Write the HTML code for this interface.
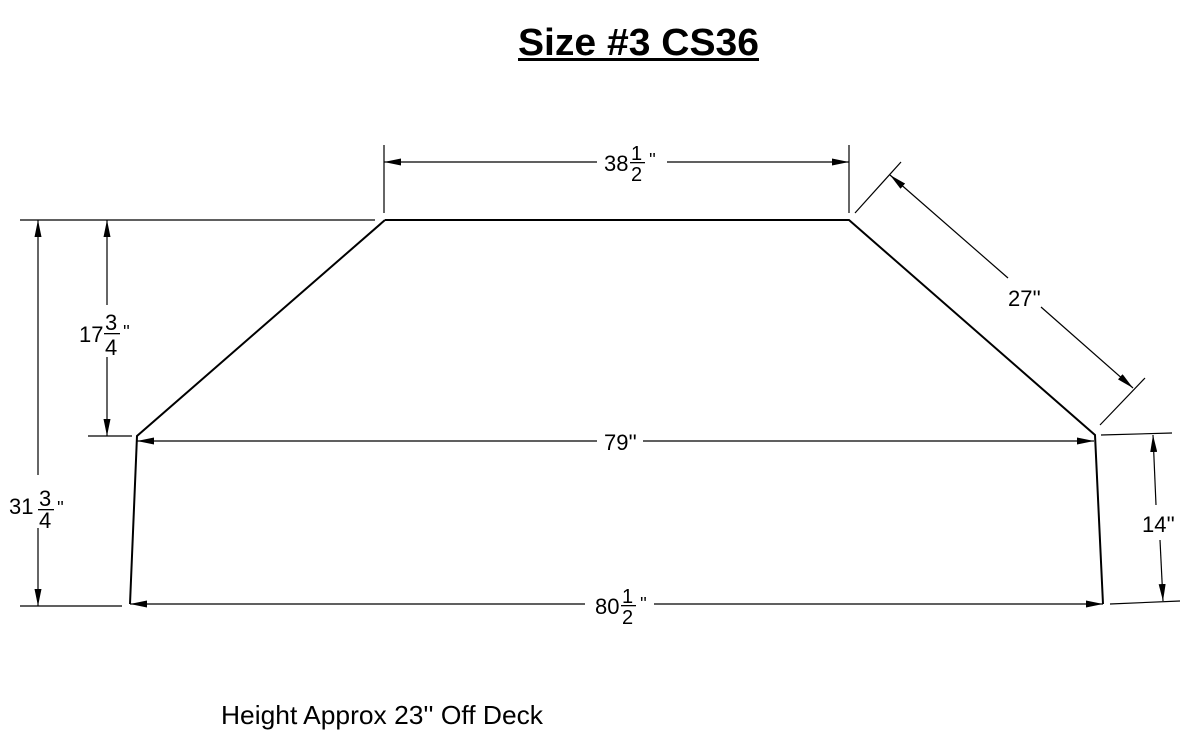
<!DOCTYPE html>
<html><head><meta charset="utf-8"><style>
html,body{margin:0;padding:0;background:#fff;}
svg{display:block;}
text{font-family:"Liberation Sans",sans-serif;fill:#000;}
</style></head><body>
<svg width="1200" height="738" viewBox="0 0 1200 738" xmlns="http://www.w3.org/2000/svg">
<defs>
<marker id="a" markerWidth="17" markerHeight="7" refX="17" refY="3.5" orient="auto" markerUnits="userSpaceOnUse">
<path d="M0,0 L17,3.5 L0,7 Z" fill="#000"/></marker>
<marker id="b" markerWidth="17" markerHeight="7" refX="0" refY="3.5" orient="auto" markerUnits="userSpaceOnUse">
<path d="M17,0 L0,3.5 L17,7 Z" fill="#000"/></marker>
</defs>
<text x="518" y="55" font-size="38" font-weight="bold" textLength="241" lengthAdjust="spacingAndGlyphs">Size #3 CS36</text>
<rect x="518" y="58" width="241" height="3" fill="#000"/>

<g stroke="#000" stroke-width="2" fill="none">
<path d="M385,220 L849,220 L1095,435 L1103,604 M385,220 L137,436 L130,604"/>
</g>

<g stroke="#000" stroke-width="1.2" fill="none">
<line x1="384" y1="145" x2="384" y2="213"/>
<line x1="849" y1="145" x2="849" y2="213"/>
<line x1="20" y1="220" x2="375" y2="220"/>
<line x1="20" y1="606" x2="122" y2="606"/>
<line x1="88" y1="436" x2="132" y2="436"/>
<line x1="855" y1="213" x2="901" y2="162"/>
<line x1="1100" y1="425" x2="1145" y2="378"/>
<line x1="1101" y1="435" x2="1172" y2="433"/>
<line x1="1110" y1="604" x2="1180" y2="601"/>
<line x1="384" y1="162" x2="597" y2="162" marker-start="url(#b)"/>
<line x1="667" y1="162" x2="849" y2="162" marker-end="url(#a)"/>
<line x1="38" y1="220" x2="38" y2="475" marker-start="url(#b)"/>
<line x1="38" y1="528" x2="38" y2="606" marker-end="url(#a)"/>
<line x1="107" y1="220" x2="107" y2="305" marker-start="url(#b)"/>
<line x1="107" y1="357" x2="107" y2="436" marker-end="url(#a)"/>
<line x1="137" y1="441" x2="597" y2="441" marker-start="url(#b)"/>
<line x1="643" y1="441" x2="1094" y2="441" marker-end="url(#a)"/>
<line x1="130" y1="604" x2="585" y2="604" marker-start="url(#b)"/>
<line x1="654" y1="604" x2="1103" y2="604" marker-end="url(#a)"/>
<line x1="890" y1="175" x2="1008" y2="278" marker-start="url(#b)"/>
<line x1="1041" y1="307" x2="1133" y2="388" marker-end="url(#a)"/>
<line x1="1153" y1="435" x2="1156" y2="505" marker-start="url(#b)"/>
<line x1="1160" y1="540" x2="1163" y2="601" marker-end="url(#a)"/>
</g>

<g font-size="22">
<text x="604" y="171">38</text>
<text x="631" y="160" font-size="20">1</text>
<rect x="630" y="162" width="15" height="1.3" fill="#000"/>
<text x="631" y="181" font-size="20">2</text>
<text x="649" y="166" font-size="18">''</text>

<text x="79" y="342">17</text>
<text x="105" y="330" font-size="22">3</text>
<rect x="104" y="333" width="16" height="1.3" fill="#000"/>
<text x="105" y="355" font-size="22">4</text>
<text x="123" y="338" font-size="18">''</text>

<text x="9" y="514">31</text>
<text x="39" y="506" font-size="22">3</text>
<rect x="38" y="509" width="16" height="1.3" fill="#000"/>
<text x="39" y="528" font-size="22">4</text>
<text x="57" y="514" font-size="18">''</text>

<text x="604" y="450">79''</text>

<text x="595" y="614">80</text>
<text x="622" y="603" font-size="20">1</text>
<rect x="621" y="605" width="15" height="1.3" fill="#000"/>
<text x="622" y="624" font-size="20">2</text>
<text x="640" y="610" font-size="18">''</text>

<text x="1008" y="306">27''</text>
<text x="1142" y="532">14''</text>
</g>

<text x="221" y="724" font-size="26" textLength="322" lengthAdjust="spacingAndGlyphs">Height Approx 23'' Off Deck</text>
</svg>
</body></html>
